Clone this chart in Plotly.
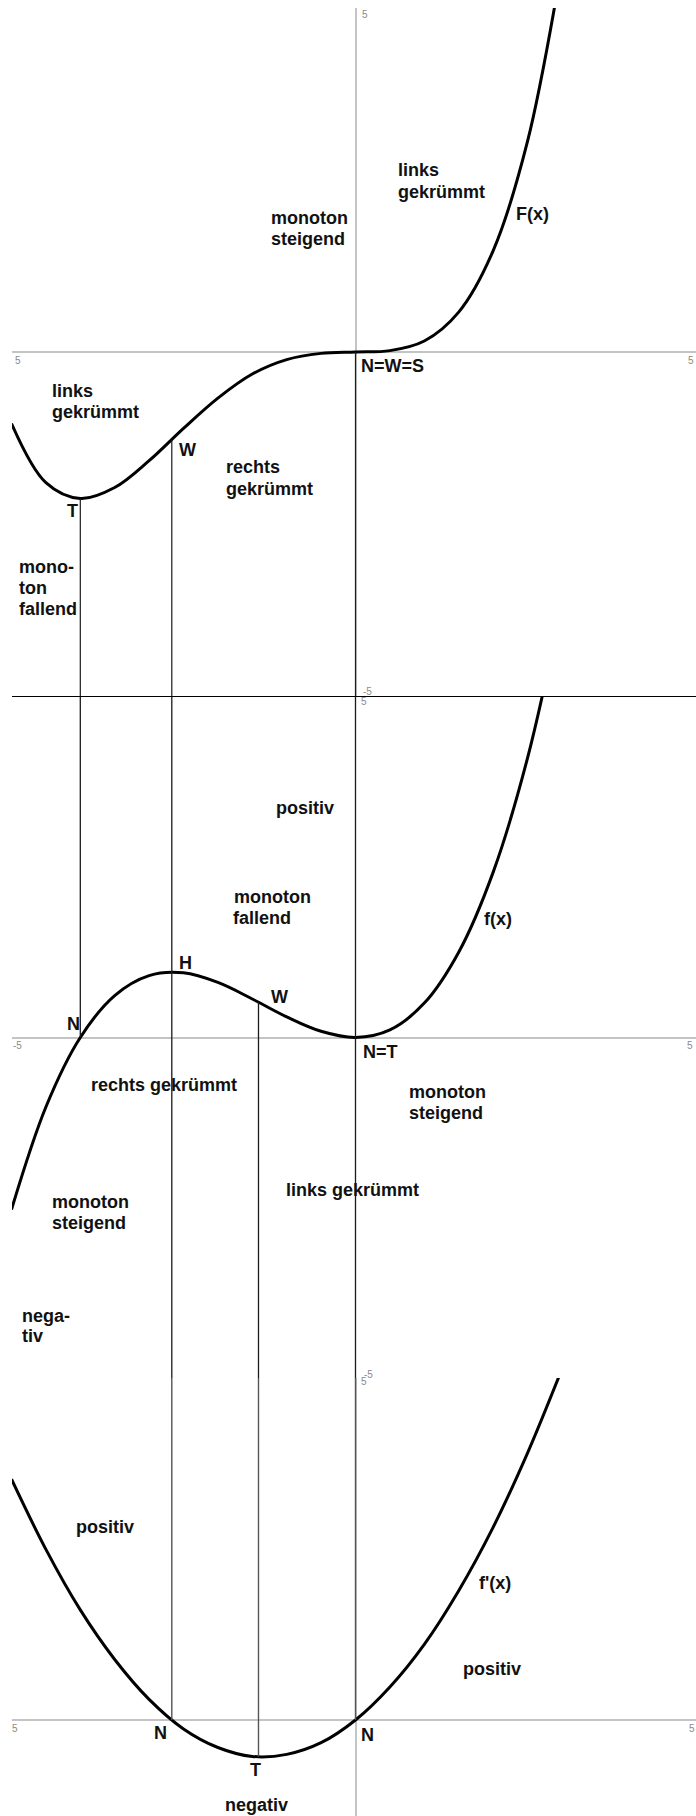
import plotly.graph_objects as go

W, H = 696, 1816

x_pts = [-5.0, -4.5, -4.0, -3.5, -3.0, -2.5, -2.0, -1.5, -1.0, -0.5, 0.0, 0.5, 1.0, 1.5, 2.0, 2.5, 3.0]
F_vals = [-1.04, -1.90, -2.13, -1.97, -1.58, -1.11, -0.67, -0.32, -0.11, -0.02, 0.0, 0.02, 0.16, 0.58, 1.47, 3.06, 5.63]
f_vals = [-2.50, -1.01, 0.0, 0.61, 0.90, 0.94, 0.80, 0.56, 0.30, 0.09, 0.0, 0.11, 0.50, 1.24, 2.40, 4.06, 6.30]
fp_vals = [3.50, 2.48, 1.60, 0.88, 0.30, -0.13, -0.40, -0.53, -0.50, -0.33, 0.0, 0.48, 1.10, 1.88, 2.80, 3.88, 5.10]

# besondere Stellen
x_T = -4.0     # F: Tiefpunkt / f: Nullstelle
x_W = -2.67    # F: Wendepunkt / f: Hochpunkt / f': Nullstelle
x_W2 = -1.41   # f: Wendepunkt / f': Tiefpunkt
x_0 = 0.0      # N=W=S / N=T / N
F_T, F_W = -2.13, -1.27
f_W2 = 0.52
fp_T = -0.53

# Pixel-Geometrie der drei Bilder
scale = 68.8
x0_px = 355.5
left_px = 12
panels = [  # (oben, unten, Nulllinie) in Pixel
    (8, 697, 352),
    (697, 1378, 1037.5),
    (1378, 1816, 1720),
]

x_range = [(left_px - x0_px) / scale, (W - x0_px) / scale]


def px2paper(px, py):
    return (px - left_px) / (W - left_px), 1 - py / H


fig = go.Figure()

y_ranges = []
for top, bot, zero in panels:
    y_ranges.append([-(bot - zero) / scale, (zero - top) / scale])

(y1_lo, y1_hi), (y2_lo, y2_hi), (y3_lo, y3_hi) = y_ranges

curve = dict(color='black', width=3)

fig.add_trace(go.Scatter(x=x_pts, y=F_vals, mode='lines', line=curve,
                         line_shape='spline', xaxis='x', yaxis='y'))
fig.add_trace(go.Scatter(x=x_pts, y=f_vals, mode='lines', line=curve,
                         line_shape='spline', xaxis='x2', yaxis='y2'))
fig.add_trace(go.Scatter(x=x_pts, y=fp_vals, mode='lines', line=curve,
                         line_shape='spline', xaxis='x3', yaxis='y3'))

# senkrechte Hilfslinien
drop1_x = [x_T, x_T, None, x_W, x_W, None, x_0, x_0]
drop1_y = [F_T, y1_lo, None, F_W, y1_lo, None, 0, y1_lo]
drop2_x = [x_T, x_T, None, x_W, x_W, None, x_W2, x_W2, None, x_0, x_0]
drop2_y = [y2_hi, 0, None, y2_hi, y2_lo, None, f_W2, y2_lo, None, y2_hi, y2_lo]
drop3_x = [x_W, x_W, None, x_W2, x_W2, None, x_0, x_0]
drop3_y = [y3_hi, 0, None, y3_hi, fp_T, None, y3_hi, 0]

fig.add_trace(go.Scatter(x=drop1_x, y=drop1_y, mode='lines',
                         line=dict(color='#1a1a1a', width=1.2), xaxis='x', yaxis='y'))
fig.add_trace(go.Scatter(x=drop2_x, y=drop2_y, mode='lines',
                         line=dict(color='#1a1a1a', width=1.3), xaxis='x2', yaxis='y2'))
fig.add_trace(go.Scatter(x=drop3_x, y=drop3_y, mode='lines',
                         line=dict(color='#555555', width=1.4), xaxis='x3', yaxis='y3'))

axis_gray = '#c4c4c4'
base_x = dict(range=x_range, domain=[0, 1], showgrid=False, showticklabels=False,
              ticks='', zeroline=True, zerolinecolor=axis_gray, zerolinewidth=2,
              fixedrange=True)
base_y = dict(showgrid=False, showticklabels=False, ticks='', zeroline=True,
              zerolinecolor=axis_gray, zerolinewidth=2, fixedrange=True)

doms = [[1 - bot / H, 1 - top / H] for top, bot, zero in panels]

fig.update_layout(
    width=W, height=H,
    margin=dict(l=left_px, r=0, t=0, b=0),
    paper_bgcolor='white', plot_bgcolor='white',
    showlegend=False,
    xaxis=dict(base_x, anchor='y'),
    xaxis2=dict(base_x, anchor='y2', matches='x', zeroline=False,
                showline=True, side='top', linecolor='black', linewidth=1),
    xaxis3=dict(base_x, anchor='y3', matches='x'),
    yaxis=dict(base_y, domain=doms[0], range=y_ranges[0], anchor='x'),
    yaxis2=dict(base_y, domain=doms[1], range=y_ranges[1], anchor='x2'),
    yaxis3=dict(base_y, domain=doms[2], range=y_ranges[2], anchor='x3'),
)

# Beschriftungen (Text, linker Rand px, Mitte px)
labels = [
    ("links", 397, 170), ("gekrümmt", 397, 192),
    ("monoton", 270, 218), ("steigend", 270, 239),
    ("F(x)", 515, 214),
    ("N=W=S", 360, 366),
    ("links", 51, 391), ("gekrümmt", 51, 412),
    ("W", 178, 450),
    ("rechts", 225, 467), ("gekrümmt", 225, 489),
    ("T", 66, 511),
    ("mono-", 18, 567), ("ton", 18, 588), ("fallend", 18, 609),
    ("positiv", 275, 808),
    ("monoton", 233, 897), ("fallend", 232, 918),
    ("f(x)", 483, 919),
    ("H", 178, 963),
    ("W", 270, 997),
    ("N", 66, 1024),
    ("N=T", 362, 1052),
    ("rechts gekrümmt", 90, 1085),
    ("monoton", 408, 1092), ("steigend", 408, 1113),
    ("links gekrümmt", 285, 1190),
    ("monoton", 51, 1202), ("steigend", 51, 1223),
    ("nega-", 21, 1316), ("tiv", 21, 1336),
    ("positiv", 75, 1527),
    ("f'(x)", 478, 1583),
    ("positiv", 462, 1669),
    ("N", 153, 1733),
    ("N", 360, 1735),
    ("T", 249, 1770),
    ("negativ", 224, 1805),
]

for text, px, py in labels:
    ax, ay = px2paper(px - 1, py)
    fig.add_annotation(x=ax, y=ay, xref='paper', yref='paper', text=text,
                       showarrow=False, xanchor='left', yanchor='middle',
                       font=dict(family='Liberation Sans, Arial, sans-serif',
                                 size=18, color='#111111', weight='bold'))

# kleine graue Achsenbeschriftungen
tick_labels = [
    ("5", 365, 15), ("5", 18, 361), ("5", 691, 361),
    ("-5", 367, 691), ("5", 364, 701),
    ("-5", 17, 1045), ("5", 690, 1045),
    ("-5", 368, 1374), ("5", 364, 1381),
    ("5", 15, 1728), ("5", 692, 1728),
]
for text, px, py in tick_labels:
    ax, ay = px2paper(px, py)
    fig.add_annotation(x=ax, y=ay, xref='paper', yref='paper', text=text,
                       showarrow=False, xanchor='center', yanchor='middle',
                       font=dict(family='Liberation Sans, Arial, sans-serif',
                                 size=10, color='#8a8a8a'))

# Seitenrand des Browsers entfernen, damit die Grafik genau ins Fenster passt
fig.write_html("out.html",
               config={'displayModeBar': False},
               post_script="document.body.style.margin='0';"
                           "document.body.style.overflow='hidden';")
